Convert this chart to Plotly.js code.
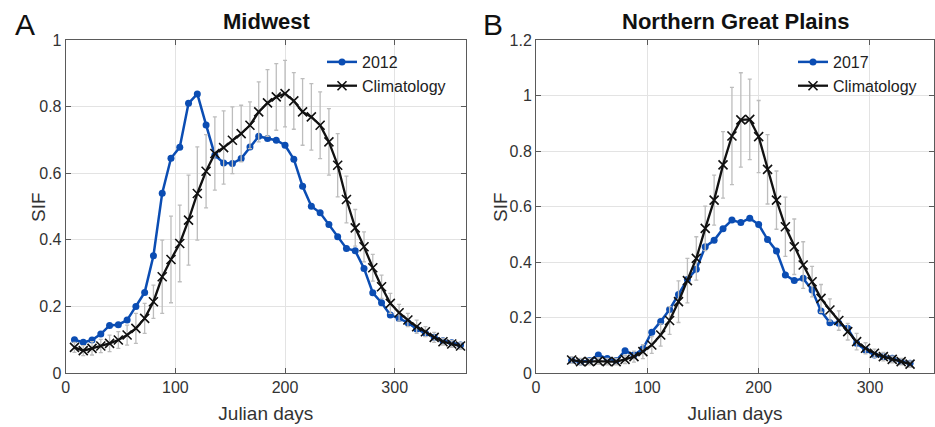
<!DOCTYPE html>
<html>
<head>
<meta charset="utf-8">
<script src="https://cdn.plot.ly/plotly-3.0.1.min.js"></script>
<style>html,body{margin:0;padding:0;background:#fff;}#chart{width:935px;height:427px;}</style>
</head>
<body>
<div id="chart"></div>
<script>
// ---- Panel A: Midwest ----
const daysMW = [8,16,24,32,40,48,56,64,72,80,88,96,104,112,120,128,136,144,152,160,168,176,184,192,200,208,216,224,232,240,248,256,264,272,280,288,296,304,312,320,328,336,344,352,360];
const sif2012 = [0.100,0.092,0.099,0.117,0.143,0.145,0.159,0.200,0.242,0.352,0.540,0.645,0.678,0.810,0.838,0.745,0.654,0.631,0.629,0.644,0.679,0.711,0.704,0.699,0.684,0.642,0.561,0.501,0.481,0.446,0.409,0.374,0.367,0.314,0.241,0.211,0.174,0.164,0.151,0.132,0.119,0.107,0.097,0.091,0.084];
const climMW = [0.077,0.067,0.074,0.081,0.089,0.099,0.114,0.134,0.164,0.214,0.289,0.341,0.389,0.459,0.539,0.606,0.659,0.677,0.699,0.719,0.744,0.784,0.811,0.829,0.839,0.817,0.784,0.769,0.744,0.694,0.624,0.521,0.436,0.379,0.316,0.259,0.209,0.181,0.159,0.139,0.124,0.107,0.094,0.087,0.081];
const climMWErr = [0.015,0.015,0.020,0.020,0.025,0.025,0.030,0.045,0.045,0.050,0.110,0.130,0.115,0.135,0.140,0.110,0.110,0.110,0.100,0.085,0.070,0.090,0.100,0.100,0.100,0.085,0.100,0.100,0.100,0.100,0.095,0.070,0.055,0.045,0.040,0.035,0.030,0.025,0.020,0.020,0.015,0.015,0.010,0.010,0.010];

// ---- Panel B: Northern Great Plains ----
const daysNGP = [32,40,48,56,64,72,80,88,96,104,112,120,128,136,144,152,160,168,176,184,192,200,208,216,224,232,240,248,256,264,272,280,288,296,304,312,320,328,336];
const sif2017 = [0.045,0.040,0.045,0.065,0.052,0.045,0.080,0.065,0.087,0.147,0.186,0.229,0.283,0.337,0.374,0.455,0.478,0.520,0.551,0.542,0.558,0.535,0.481,0.440,0.353,0.333,0.341,0.299,0.223,0.181,0.179,0.161,0.107,0.083,0.065,0.059,0.053,0.041,0.035];
const climNGP = [0.047,0.041,0.041,0.043,0.041,0.041,0.049,0.059,0.077,0.101,0.137,0.189,0.257,0.333,0.413,0.521,0.623,0.750,0.854,0.912,0.914,0.852,0.734,0.623,0.527,0.455,0.389,0.329,0.269,0.227,0.189,0.149,0.113,0.089,0.071,0.059,0.049,0.041,0.032];
const climNGPErr = [0.012,0.012,0.012,0.012,0.012,0.012,0.015,0.020,0.025,0.030,0.040,0.050,0.075,0.080,0.078,0.080,0.090,0.120,0.175,0.170,0.145,0.130,0.125,0.105,0.107,0.100,0.084,0.055,0.050,0.040,0.035,0.030,0.030,0.020,0.015,0.015,0.012,0.012,0.012];

const xTicks = [0,100,200,300];

const BLUE = '#0b4db3';
const BLACK = '#111111';
const ERR = '#bdbdbd';
const FONT = 'Liberation Sans, Arial, Helvetica, sans-serif';

function blueTrace(x, y, name, xa, ya, leg) {
  return {x: x, y: y, name: name, xaxis: xa, yaxis: ya, legend: leg, type: 'scatter', mode: 'lines+markers',
    line: {color: BLUE, width: 2.5}, marker: {symbol: 'circle', size: 7, color: BLUE}};
}
function climTrace(x, y, err, xa, ya, leg) {
  return {x: x, y: y, name: 'Climatology', xaxis: xa, yaxis: ya, legend: leg, type: 'scatter', mode: 'lines+markers',
    line: {color: BLACK, width: 2.3}, marker: {symbol: 'x-thin-open', size: 9, color: BLACK, line: {color: BLACK, width: 1.6}},
    error_y: {type: 'data', array: err, visible: true, color: ERR, thickness: 1.3, width: 2}};
}

const data = [
  blueTrace(daysMW, sif2012, '2012', 'x', 'y', 'legend'),
  climTrace(daysMW, climMW, climMWErr, 'x', 'y', 'legend'),
  blueTrace(daysNGP, sif2017, '2017', 'x2', 'y2', 'legend2'),
  climTrace(daysNGP, climNGP, climNGPErr, 'x2', 'y2', 'legend2')
];

const axisCommon = {
  showgrid: true, gridcolor: '#e3e3e3', gridwidth: 1,
  showline: true, linecolor: '#5a5a5a', linewidth: 1, mirror: 'ticks',
  ticks: 'inside', ticklen: 5, tickcolor: '#5a5a5a', tickwidth: 1,
  zeroline: false, tickfont: {family: FONT, size: 16, color: '#333'}
};
const H = 427, W = 935;
const yDom = [(H - 373) / H, (H - 40) / H];

const layout = {
  width: W, height: H,
  margin: {l: 0, r: 0, t: 0, b: 0},
  paper_bgcolor: '#fff', plot_bgcolor: '#fff',
  font: {family: FONT, color: '#222'},
  showlegend: true,
  xaxis: Object.assign({}, axisCommon, {domain: [65.7 / W, 466 / W], range: [0, 365], tickvals: xTicks, anchor: 'y',
    title: {text: 'Julian days', font: {family: FONT, size: 19, color: '#333'}, standoff: 11}}),
  yaxis: Object.assign({}, axisCommon, {domain: yDom, range: [0, 1], dtick: 0.2, anchor: 'x'}),
  xaxis2: Object.assign({}, axisCommon, {domain: [536 / W, 934 / W], range: [0, 357.5], tickvals: xTicks, anchor: 'y2',
    title: {text: 'Julian days', font: {family: FONT, size: 19, color: '#333'}, standoff: 11}}),
  yaxis2: Object.assign({}, axisCommon, {domain: yDom, range: [0, 1.2], dtick: 0.2, anchor: 'x2'}),
  legend: {x: 322 / W, y: (H - 45) / H, xanchor: 'left', yanchor: 'top', bgcolor: 'rgba(0,0,0,0)',
    font: {family: FONT, size: 16, color: '#222'}, tracegroupgap: 0, itemwidth: 30},
  legend2: {x: 793 / W, y: (H - 45) / H, xanchor: 'left', yanchor: 'top', bgcolor: 'rgba(0,0,0,0)',
    font: {family: FONT, size: 16, color: '#222'}, tracegroupgap: 0, itemwidth: 30},
  annotations: [
    {text: 'A', xref: 'paper', yref: 'paper', x: 13 / W, y: (H - 25) / H, xanchor: 'left', yanchor: 'middle', showarrow: false,
      font: {family: FONT, size: 30, color: '#111'}},
    {text: 'B', xref: 'paper', yref: 'paper', x: 481 / W, y: (H - 25) / H, xanchor: 'left', yanchor: 'middle', showarrow: false,
      font: {family: FONT, size: 30, color: '#111'}},
    {text: '<b>Midwest</b>', xref: 'paper', yref: 'paper', x: 266 / W, y: (H - 22) / H, xanchor: 'center', yanchor: 'middle', showarrow: false,
      font: {family: FONT, size: 22, color: '#111'}},
    {text: '<b>Northern Great Plains</b>', xref: 'paper', yref: 'paper', x: 735 / W, y: (H - 22) / H, xanchor: 'center', yanchor: 'middle', showarrow: false,
      font: {family: FONT, size: 22, color: '#111'}},
    {text: 'SIF', xref: 'paper', yref: 'paper', x: 38 / W, y: (H - 207) / H, xanchor: 'center', yanchor: 'middle', textangle: -90, showarrow: false,
      font: {family: FONT, size: 19, color: '#333'}},
    {text: 'SIF', xref: 'paper', yref: 'paper', x: 500 / W, y: (H - 207) / H, xanchor: 'center', yanchor: 'middle', textangle: -90, showarrow: false,
      font: {family: FONT, size: 19, color: '#333'}}
  ]
};

Plotly.newPlot('chart', data, layout, {displayModeBar: false, staticPlot: true});
</script>
</body>
</html>
